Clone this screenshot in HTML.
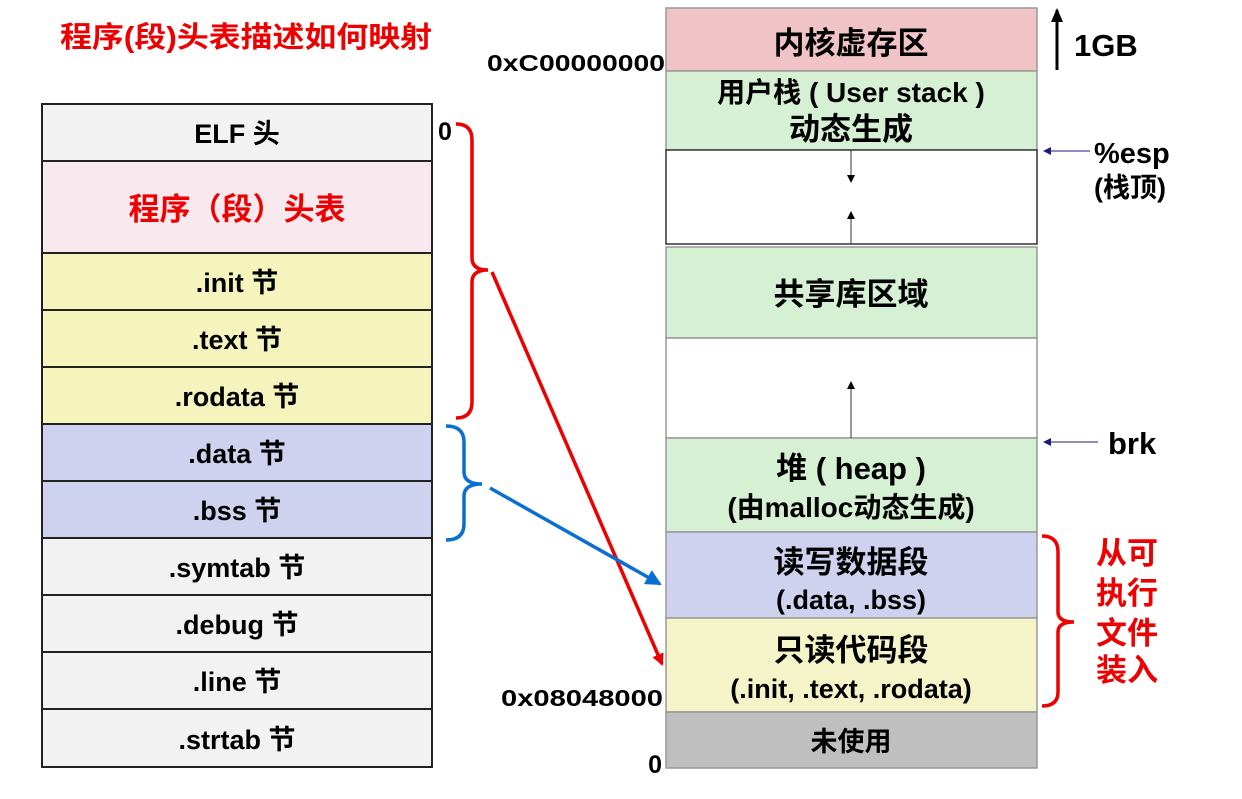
<!DOCTYPE html>
<html><head><meta charset="utf-8"><style>
body{margin:0;background:#fff}
svg text{font-family:"Liberation Sans","Noto Sans CJK SC",sans-serif;font-weight:bold}
</style></head><body>
<svg width="1242" height="794" xmlns="http://www.w3.org/2000/svg">
<defs>
<marker id="ar" markerWidth="12" markerHeight="12" refX="10" refY="6" orient="auto" markerUnits="userSpaceOnUse"><path d="M0,0 L12,6 L0,12z" fill="#e00"/></marker>
<marker id="ab" markerWidth="16" markerHeight="16" refX="14" refY="8" orient="auto" markerUnits="userSpaceOnUse"><path d="M0,0 L16,8 L0,16z" fill="#0a6fd1"/></marker>
<marker id="ak" markerWidth="8" markerHeight="8" refX="7" refY="4" orient="auto" markerUnits="userSpaceOnUse"><path d="M0,0 L8,4 L0,8z" fill="#000"/></marker>
<marker id="ak2" markerWidth="14" markerHeight="12" refX="12" refY="6" orient="auto" markerUnits="userSpaceOnUse"><path d="M0,0 L14,6 L0,12z" fill="#000"/></marker>
<marker id="an" markerWidth="8" markerHeight="8" refX="7" refY="4" orient="auto" markerUnits="userSpaceOnUse"><path d="M0,0 L8,4 L0,8z" fill="#1a1a80"/></marker>
</defs>
<text x="60" y="47" font-size="29" fill="#e00" textLength="372" lengthAdjust="spacingAndGlyphs">程序(段)头表描述如何映射</text>
<g stroke="#222" stroke-width="2">
<rect x="42" y="104" width="390" height="57" fill="#f2f2f2"/>
<rect x="42" y="161" width="390" height="92" fill="#f7e9ee"/>
<rect x="42" y="253" width="390" height="57" fill="#f4f4bc"/>
<rect x="42" y="310" width="390" height="57" fill="#f4f4bc"/>
<rect x="42" y="367" width="390" height="57" fill="#f4f4bc"/>
<rect x="42" y="424" width="390" height="57" fill="#cfd2ef"/>
<rect x="42" y="481" width="390" height="57" fill="#cfd2ef"/>
<rect x="42" y="538" width="390" height="57" fill="#f2f2f2"/>
<rect x="42" y="595" width="390" height="57" fill="#f2f2f2"/>
<rect x="42" y="652" width="390" height="57" fill="#f2f2f2"/>
<rect x="42" y="709" width="390" height="58" fill="#f2f2f2"/>
</g>
<g font-size="27" text-anchor="middle" fill="#000">
<text x="237" y="143">ELF 头</text>
<text x="237" y="220" fill="#e00" font-size="31">程序（段）头表</text>
<text x="237" y="292">.init 节</text>
<text x="237" y="349">.text 节</text>
<text x="237" y="406">.rodata 节</text>
<text x="237" y="463">.data 节</text>
<text x="237" y="520">.bss 节</text>
<text x="237" y="577">.symtab 节</text>
<text x="237" y="634">.debug 节</text>
<text x="237" y="691">.line 节</text>
<text x="237" y="749">.strtab 节</text>
</g>
<text x="438" y="140" font-size="25">0</text>
<path d="M456,124 Q472,124 472,140 L472,258 Q472,270 488,270 Q472,270 472,282 L472,402 Q472,418 456,418" fill="none" stroke="#e00" stroke-width="3.5"/>
<path d="M446,426 Q464,426 464,442 L464,472 Q464,484 482,484 Q464,484 464,496 L464,524 Q464,540 446,540" fill="none" stroke="#0a6fd1" stroke-width="3.5"/>
<line x1="492" y1="272" x2="662" y2="664" stroke="#e00" stroke-width="3.5" marker-end="url(#ar)"/>
<line x1="490" y1="488" x2="660" y2="584" stroke="#0a6fd1" stroke-width="3.5" marker-end="url(#ab)"/>
<g stroke="#999" stroke-width="1.5">
<rect x="666" y="8" width="371" height="63" fill="#f0c4c6"/>
<rect x="666" y="71" width="371" height="79" fill="#d5f0d3"/>
<rect x="666" y="150" width="371" height="94" fill="#fff" stroke="#333"/>
<rect x="666" y="247" width="371" height="91" fill="#d5f0d3"/>
<rect x="666" y="338" width="371" height="100" fill="#fff"/>
<rect x="666" y="438" width="371" height="94" fill="#d5f0d3"/>
<rect x="666" y="532" width="371" height="86" fill="#cfd2ef"/>
<rect x="666" y="618" width="371" height="94" fill="#f4f4c8"/>
<rect x="666" y="712" width="371" height="56" fill="#bfbfbf"/>
</g>
<line x1="851" y1="150" x2="851" y2="182" stroke="#333" marker-end="url(#ak)"/>
<line x1="851" y1="244" x2="851" y2="212" stroke="#333" marker-end="url(#ak)"/>
<line x1="851" y1="438" x2="851" y2="382" stroke="#333" marker-end="url(#ak)"/>
<g font-size="31" text-anchor="middle">
<text x="851" y="54">内核虚存区</text>
<text x="851" y="102" font-size="28">用户栈 ( User stack )</text>
<text x="851" y="140">动态生成</text>
<text x="851" y="305">共享库区域</text>
<text x="851" y="479">堆 ( heap )</text>
<text x="851" y="517" font-size="28">(由malloc动态生成)</text>
<text x="851" y="573">读写数据段</text>
<text x="851" y="609" font-size="27">(.data, .bss)</text>
<text x="851" y="661">只读代码段</text>
<text x="851" y="698" font-size="27">(.init, .text, .rodata)</text>
<text x="851" y="751" font-size="27">未使用</text>
</g>
<g font-size="23" text-anchor="end">
<text x="665" y="71" textLength="178" lengthAdjust="spacingAndGlyphs">0xC00000000</text>
<text x="663" y="706" textLength="162" lengthAdjust="spacingAndGlyphs">0x08048000</text>
<text x="662" y="773" font-size="25">0</text>
</g>
<line x1="1057" y1="70" x2="1057" y2="10" stroke="#000" stroke-width="3" marker-end="url(#ak2)"/>
<text x="1074" y="56" font-size="31">1GB</text>
<line x1="1090" y1="151" x2="1044" y2="151" stroke="#1a1a80" marker-end="url(#an)"/>
<text x="1094" y="163" font-size="29">%esp</text>
<text x="1094" y="197" font-size="27">(栈顶)</text>
<line x1="1098" y1="442" x2="1044" y2="442" stroke="#1a1a80" marker-end="url(#an)"/>
<text x="1108" y="454" font-size="31">brk</text>
<path d="M1042,536 Q1058,536 1058,552 L1058,612 Q1058,622 1074,622 Q1058,622 1058,632 L1058,692 Q1058,706 1042,706" fill="none" stroke="#e00" stroke-width="3.5"/>
<g font-size="31" fill="#e00">
<text x="1096" y="564">从可</text>
<text x="1096" y="604">执行</text>
<text x="1096" y="644">文件</text>
<text x="1096" y="681">装入</text>
</g>
</svg>
</body></html>
